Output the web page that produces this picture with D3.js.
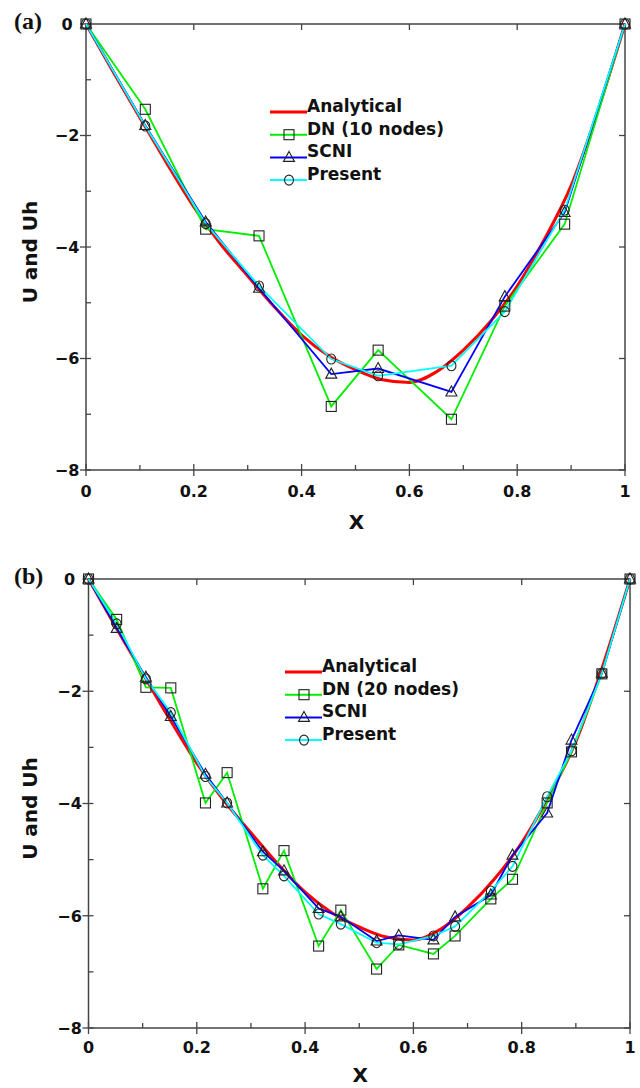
<!DOCTYPE html>
<html>
<head>
<meta charset="utf-8">
<script src="https://cdn.jsdelivr.net/npm/d3@7/dist/d3.min.js"></script>
<style>
  html, body { margin: 0; padding: 0; background: #fff; }
  svg { display: block; }
  text { font-family: "DejaVu Sans", Verdana, sans-serif; font-weight: bold; fill: #111; }
</style>
</head>
<body>
<svg id="chart" width="640" height="1088"></svg>
<script>
// Exact solution sampled along x
const analyticX = [0, 0.05, 0.1, 0.15, 0.2, 0.25, 0.3, 0.35, 0.4, 0.45, 0.5, 0.55, 0.6, 0.65, 0.7, 0.75, 0.8, 0.85, 0.9, 0.95, 1];
const analyticU = [0, -0.85, -1.68, -2.5, -3.28, -3.95, -4.52, -5.08, -5.58, -5.95, -6.2, -6.38, -6.43, -6.24, -5.85, -5.34, -4.7, -3.87, -2.9, -1.54, 0];

// Panel (a): 10 nodes
const nodes10X = [0, 0.11, 0.222, 0.321, 0.455, 0.542, 0.678, 0.777, 0.888, 1];
const dn10U = [0, -1.53, -3.68, -3.80, -6.86, -5.85, -7.09, -5.06, -3.59, 0];
const scni10U = [0, -1.82, -3.55, -4.74, -6.28, -6.18, -6.60, -4.89, -3.38, 0];
const present10U = [0, -1.83, -3.58, -4.70, -6.01, -6.31, -6.13, -5.16, -3.34, 0];

// Panel (b): 20 nodes
const nodes20X = [0, 0.052, 0.106, 0.152, 0.216, 0.256, 0.322, 0.361, 0.425, 0.466, 0.532, 0.573, 0.637, 0.677, 0.743, 0.783, 0.847, 0.892, 0.948, 1];
const dn20U = [0, -0.72, -1.93, -1.94, -3.99, -3.45, -5.52, -4.84, -6.54, -5.90, -6.95, -6.52, -6.68, -6.36, -5.70, -5.35, -3.99, -3.08, -1.69, 0];
const scni20U = [0, -0.88, -1.75, -2.45, -3.48, -3.99, -4.86, -5.20, -5.87, -6.02, -6.45, -6.35, -6.43, -6.02, -5.63, -4.92, -4.17, -2.87, -1.68, 0];
const present20U = [0, -0.80, -1.78, -2.38, -3.52, -3.99, -4.92, -5.29, -5.97, -6.15, -6.48, -6.51, -6.36, -6.19, -5.56, -5.12, -3.88, -3.06, -1.68, 0];

// Axis ticks
const xMajor = [0, 0.2, 0.4, 0.6, 0.8, 1];
const xMinor = [0.1, 0.3, 0.5, 0.7, 0.9];
const yMajor = [0, -2, -4, -6, -8];
const yMinor = [-1, -3, -5, -7];
const xTickLabels = ["0", "0.2", "0.4", "0.6", "0.8", "1"];
const yTickLabels = ["0", "-2", "-4", "-6", "-8"];

const seriesNames10 = ["Analytical", "DN (10 nodes)", "SCNI", "Present"];
const seriesNames20 = ["Analytical", "DN (20 nodes)", "SCNI", "Present"];
const seriesColors = ["#ff0000", "#00ee00", "#0000ff", "#00ffff"];
const seriesMarkers = [null, "square", "triangle", "circle"];

const svg = d3.select("#chart");

function drawMarker(g, type, cx, cy) {
  const stroke = "#222";
  if (type === "square") {
    g.append("rect").attr("x", cx - 5).attr("y", cy - 5).attr("width", 10).attr("height", 10)
      .attr("fill", "none").attr("stroke", stroke).attr("stroke-width", 1.1);
  } else if (type === "triangle") {
    g.append("path").attr("d", `M${cx},${cy - 6}L${cx + 5.5},${cy + 4}L${cx - 5.5},${cy + 4}Z`)
      .attr("fill", "none").attr("stroke", stroke).attr("stroke-width", 1.1);
  } else if (type === "circle") {
    g.append("ellipse").attr("cx", cx).attr("cy", cy).attr("rx", 4.5).attr("ry", 5)
      .attr("fill", "none").attr("stroke", stroke).attr("stroke-width", 1.1);
  }
}

function drawPanel(cfg) {
  const x = d3.scaleLinear().domain([0, 1]).range([cfg.left, cfg.right]);
  const y = d3.scaleLinear().domain([-8, 0]).range([cfg.bottom, cfg.top]);
  const g = svg.append("g");

  const axisColor = "#444";
  // frame
  g.append("rect").attr("x", cfg.left).attr("y", cfg.top)
    .attr("width", cfg.right - cfg.left).attr("height", cfg.bottom - cfg.top)
    .attr("fill", "none").attr("stroke", axisColor).attr("stroke-width", 1.5);

  // ticks: majors cross the bottom/left axes, minors point inward
  const ticks = g.append("g").attr("stroke", axisColor).attr("stroke-width", 1.3);
  xMajor.forEach(v => {
    ticks.append("line").attr("x1", x(v)).attr("x2", x(v)).attr("y1", cfg.bottom - 6).attr("y2", cfg.bottom + 6);
    ticks.append("line").attr("x1", x(v)).attr("x2", x(v)).attr("y1", cfg.top).attr("y2", cfg.top + 6);
  });
  xMinor.forEach(v => {
    ticks.append("line").attr("x1", x(v)).attr("x2", x(v)).attr("y1", cfg.bottom - 5).attr("y2", cfg.bottom);
  });
  yMajor.forEach(v => {
    ticks.append("line").attr("x1", cfg.left - 6).attr("x2", cfg.left + 5).attr("y1", y(v)).attr("y2", y(v));
    ticks.append("line").attr("x1", cfg.right - 6).attr("x2", cfg.right).attr("y1", y(v)).attr("y2", y(v));
  });
  yMinor.forEach(v => {
    ticks.append("line").attr("x1", cfg.left).attr("x2", cfg.left + 5).attr("y1", y(v)).attr("y2", y(v));
  });

  // tick labels
  xMajor.forEach((v, i) => {
    g.append("text").attr("x", x(v)).attr("y", cfg.bottom + cfg.xLabelGap).attr("text-anchor", "middle")
      .attr("font-size", 16).text(xTickLabels[i]);
  });
  yMajor.forEach((v, i) => {
    g.append("text").attr("x", cfg.left - 19).attr("y", y(v)).attr("dy", "0.36em")
      .attr("text-anchor", "middle").attr("font-size", 16).text(yTickLabels[i].replace("-", "\u2212"));
  });

  // axis titles
  g.append("text").attr("x", (cfg.left + cfg.right) / 2 + 1).attr("y", cfg.bottom + cfg.titleGap)
    .attr("text-anchor", "middle").attr("font-size", 20).text("X");
  g.append("text").attr("transform", `translate(37,${(cfg.top + cfg.bottom) / 2 + 5}) rotate(-90)`)
    .attr("text-anchor", "middle").attr("font-size", 20).text("U and Uh");

  // panel tag
  g.append("text").attr("x", 14).attr("y", cfg.top + 5)
    .style("font-family", "'Liberation Serif', 'Times New Roman', serif")
    .attr("font-size", 24).text(cfg.tag);

  // curves
  const linear = d3.line().x(d => x(d[0])).y(d => y(d[1]));
  const smooth = d3.line().x(d => x(d[0])).y(d => y(d[1])).curve(d3.curveMonotoneX);

  const analytic = d3.zip(analyticX, analyticU);
  const plot = g.append("g");
  plot.append("path").attr("d", smooth(analytic)).attr("fill", "none")
    .attr("stroke", seriesColors[0]).attr("stroke-width", 3);

  const discrete = [cfg.dn, cfg.scni, cfg.present];
  discrete.forEach((vals, k) => {
    plot.append("path").attr("d", linear(d3.zip(cfg.nodesX, vals))).attr("fill", "none")
      .attr("stroke", seriesColors[k + 1]).attr("stroke-width", 1.8);
  });
  discrete.forEach((vals, k) => {
    cfg.nodesX.forEach((xv, i) => drawMarker(plot, seriesMarkers[k + 1], x(xv), y(vals[i])));
  });

  // legend
  const lg = g.append("g");
  cfg.names.forEach((name, i) => {
    const ly = cfg.legendY + i * 22.7;
    lg.append("line").attr("x1", cfg.legendX).attr("x2", cfg.legendX + 37)
      .attr("y1", ly).attr("y2", ly).attr("stroke", seriesColors[i]).attr("stroke-width", i === 0 ? 3 : 2);
    if (seriesMarkers[i]) drawMarker(lg, seriesMarkers[i], cfg.legendX + 19, ly);
    lg.append("text").attr("x", cfg.legendX + 37).attr("y", ly).attr("font-size", 17).text(name);
  });
}

drawPanel({
  tag: "(a)", left: 86, right: 625, top: 24, bottom: 470, xLabelGap: 27, titleGap: 59,
  nodesX: nodes10X, dn: dn10U, scni: scni10U, present: present10U,
  names: seriesNames10, legendX: 270, legendY: 112
});

drawPanel({
  tag: "(b)", left: 88.5, right: 630, top: 579, bottom: 1028, xLabelGap: 25, titleGap: 54,
  nodesX: nodes20X, dn: dn20U, scni: scni20U, present: present20U,
  names: seriesNames20, legendX: 285, legendY: 672
});
</script>
</body>
</html>
